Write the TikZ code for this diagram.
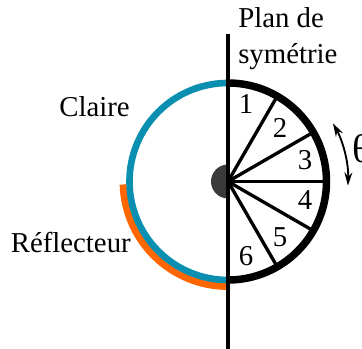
\documentclass[tikz,border=0pt]{standalone}
\usepackage{fontspec}
\setmainfont{Liberation Serif}
\usetikzlibrary{calc, arrows.meta}

\begin{document}
\begin{tikzpicture}[x=0.75pt, y=0.75pt, every node/.style={font=\fontsize{21.6}{24}\selectfont, inner sep=0pt}]
    % Define colours
    \definecolor{claireColour}{HTML}{0A8FB0}
    \definecolor{reflectorColour}{HTML}{FF6600}
    \definecolor{hubColour}{HTML}{3A3A3A}

    % Define radius of the ring
    \def\ringRadius{98.5}

    % Fix the margins
    \useasboundingbox (-228,-167.5) rectangle (134,181.5);

    % Define centre of the ring
    \coordinate (O) at (0,0);

    % Draw the hub
    \fill[hubColour] (0,17) arc (90:270:17) -- cycle;

    % Draw the reflector
    \draw[reflectorColour, line width=5.2pt] (-104.9,-3) arc (181.6:270:104.9);

    % Draw the left half of the ring
    \draw[claireColour, line width=5pt] (0,\ringRadius) arc (90:270:\ringRadius);

    % Draw the spokes
    \foreach \a in {60,30,0,-30,-60}
        \draw[line width=2.5pt] (O) -- (\a:\ringRadius);

    % Draw the right half of the ring
    \draw[line width=5.6pt] (0,\ringRadius) arc (90:-90:\ringRadius);

    % Draw the symmetry plane
    \coordinate (planTop) at (0,147);
    \coordinate (planBottom) at (0,-167.5);
    \draw[line width=2.5pt] (planTop) -- (planBottom);

    % Draw the angle arrow
    \draw[{Stealth[length=10pt,width=6pt]}-{Stealth[length=10pt,width=6pt]}, line width=1.4pt] (29:120) arc (29:-2:120);

    % Label the sectors
    \node (sector1) at (18,78) {1};
    \node (sector2) at (52,54) {2};
    \node (sector3) at (77,21) {3};
    \node (sector4) at (77,-19) {4};
    \node (sector5) at (52,-56) {5};
    \node (sector6) at (18,-75) {6};

    % Label the rest
    \node[anchor=base west] (plan) at (10,154) {Plan de};
    \node[anchor=base west] (symetrie) at (10,118) {symétrie};
    \node[anchor=base east] (claire) at (-98,65) {Claire};
    \node[anchor=base east] (reflecteur) at (-97,-71) {Réflecteur};
    \node[anchor=base west, font=\fontsize{30}{30}\selectfont] (theta) at (124,19) {θ};
\end{tikzpicture}
\end{document}
